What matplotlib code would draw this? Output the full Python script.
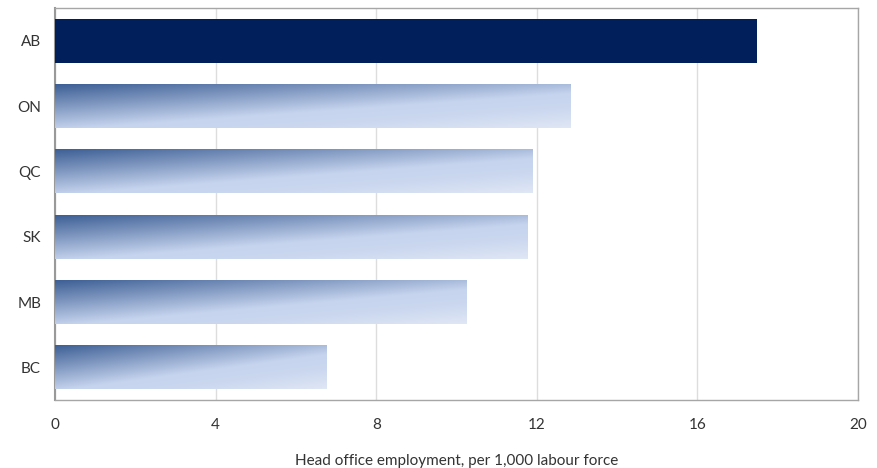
import numpy as np
import matplotlib
matplotlib.use("Agg")
import matplotlib.pyplot as plt
from matplotlib.colors import to_rgb

provinces = ["AB", "ON", "QC", "SK", "MB", "BC"]
values = [17.48, 12.83, 11.90, 11.78, 10.26, 6.75]
x_ticks = [0, 4, 8, 12, 16, 20]
x_label = "Head office employment, per 1,000 labour force"

plt.rcParams["font.family"] = ["Lato", "DejaVu Sans"]

fig = plt.figure(figsize=(8.78, 4.68), dpi=100)
ax = fig.add_axes([55 / 878, 68 / 468, 803 / 878, 392 / 468])

bar_h = 0.67
highlight = "#001f5b"

# diagonal gradient (top-left dark to bottom-right light) for the other bars
stops_t = [0.0, 1.0, 1.3, 1.75]
stops_c = [np.array(to_rgb(c)) for c in ("#3d5f95", "#c6d4ee", "#cad7ef", "#e0e7f5")]


def gradient_image(nx=400, ny=80):
    u = np.linspace(0, 1, nx)[None, :]
    v = np.linspace(0, 1, ny)[:, None]
    t = 0.8 * u + 0.95 * v
    img = np.zeros((ny, nx, 3))
    for ch in range(3):
        img[..., ch] = np.interp(t, stops_t, [c[ch] for c in stops_c])
    return img


for i, (name, val) in enumerate(zip(provinces, values)):
    if i == 0:
        ax.barh(i, val, height=bar_h, color=highlight, zorder=3)
    else:
        ax.barh(i, val, height=bar_h, color="none", zorder=3)
        ax.imshow(gradient_image(), extent=(0, val, i + bar_h / 2, i - bar_h / 2),
                  origin="upper", aspect="auto", zorder=3, interpolation="bilinear")

ax.set_xlim(0, 20)
ax.set_ylim(len(provinces) - 0.5, -0.5)
ax.set_xticks(x_ticks)
ax.set_xticklabels([str(t) for t in x_ticks])
ax.set_yticks(range(len(provinces)))
ax.set_yticklabels(provinces)

ax.grid(axis="x", color="#dddddd", linewidth=1, zorder=0)
ax.set_axisbelow(True)
ax.tick_params(axis="both", length=0, labelsize=11, labelcolor="#333333")
ax.tick_params(axis="x", pad=13)
ax.tick_params(axis="y", pad=10)

for side in ("top", "right", "bottom"):
    ax.spines[side].set_color("#a6a6a6")
    ax.spines[side].set_linewidth(1)
ax.spines["left"].set_color("#999999")
ax.spines["left"].set_linewidth(1.5)

ax.set_xlabel(x_label, fontsize=11, color="#333333", labelpad=16)

fig.savefig("out.png", dpi=100)
